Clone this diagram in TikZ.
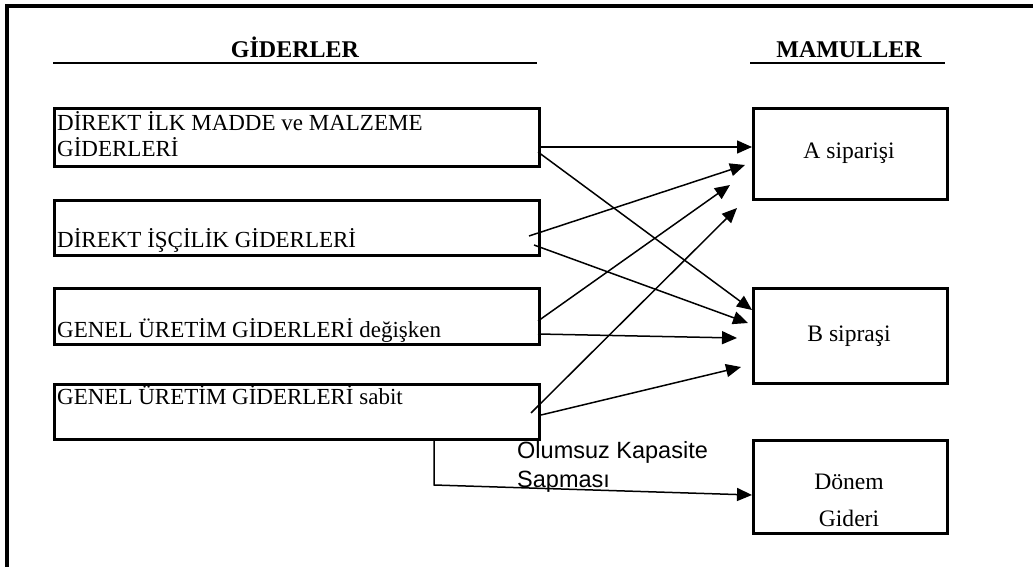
\documentclass[tikz,border=0pt]{standalone}
\usepackage{fontspec}
\setmainfont{Liberation Serif}
\newfontfamily\arialfont{Liberation Sans}
\usetikzlibrary{arrows.meta, calc}

\begin{document}
\begin{tikzpicture}[x=1pt, y=-1pt,
	gider/.style={draw, line width=3pt, minimum width=485pt, anchor=north west, inner sep=0pt},
	mamul/.style={draw, line width=3pt, minimum width=194pt, anchor=north west, inner sep=0pt},
	yazi/.style={font=\fontsize{23}{27}\selectfont, anchor=base west, inner sep=0pt},
	urun/.style={font=\fontsize{23.6}{28}\selectfont, anchor=base, inner sep=0pt},
	baslik/.style={font=\fontsize{24}{28}\selectfont\bfseries, anchor=base, inner sep=0pt},
	sapma/.style={font=\arialfont\fontsize{23.5}{28}\selectfont, anchor=base west, inner sep=0pt},
	ok/.style={line width=1.5pt, -{Triangle[length=15pt, width=13pt]}}]
	\useasboundingbox (0,0) rectangle (1033,567);

	% Frame
	\draw[line width=3.5pt] (7,567) -- (7,6) -- (1033,6);

	% Headings
	\node[baslik] (hg) at (295,58) {GİDERLER};
	\node[baslik] (hm) at (849,58) {MAMULLER};
	\draw[line width=2.2pt] (53,63) -- (537,63);
	\draw[line width=2.2pt] (750,63) -- (945,63);

	% Cost boxes
	\node[gider, minimum height=58pt] (g1) at (53,107) {};
	\node[gider, minimum height=55pt] (g2) at (53,199) {};
	\node[gider, minimum height=56pt] (g3) at (53,287) {};
	\node[gider, minimum height=55pt] (g4) at (53,383) {};
	\node[yazi] (t1a) at (57,131) {DİREKT İLK MADDE ve MALZEME};
	\node[yazi] (t1b) at (57,157) {GİDERLERİ};
	\node[yazi] (t2) at (57,247) {DİREKT İŞÇİLİK GİDERLERİ};
	\node[yazi] (t3) at (57,337) {GENEL ÜRETİM GİDERLERİ değişken};
	\node[yazi] (t4) at (57,404) {GENEL ÜRETİM GİDERLERİ sabit};

	% Product boxes
	\node[mamul, minimum height=91pt] (mA) at (752,107) {};
	\node[mamul, minimum height=95pt] (mB) at (752,287) {};
	\node[mamul, minimum height=93pt] (mD) at (752,439) {};
	\node[urun] (tA) at (849,158) {A siparişi};
	\node[urun] (tB) at (849,341) {B sipraşi};
	\node[urun] (tD1) at (849,489) {Dönem};
	\node[urun] (tD2) at (849,526) {Gideri};

	% Allocation arrows
	\foreach \i/\sx/\sy/\ex/\ey in {1/538/147/752/147, 2/538/152/752/310,
		3/529/236/745/165, 4/534/245/748/323, 5/538/321/730/185,
		6/538/334/737/338, 7/531/413/737/208, 8/541/415/741/367} {
		\coordinate (s\i) at (\sx,\sy);
		\coordinate (e\i) at (\ex,\ey);
		\draw[ok] (s\i) -- (e\i);
	}

	% Capacity variance
	\coordinate (k1) at (434,438);
	\coordinate (k2) at (434,485);
	\coordinate (e9) at (752,495);
	\draw[ok] (k1) -- (k2) -- (e9);
	\node[sapma] (olk) at (517,458) {Olumsuz Kapasite};
	\node[sapma] (ols) at (517,487) {Sapması};

\end{tikzpicture}
\end{document}
